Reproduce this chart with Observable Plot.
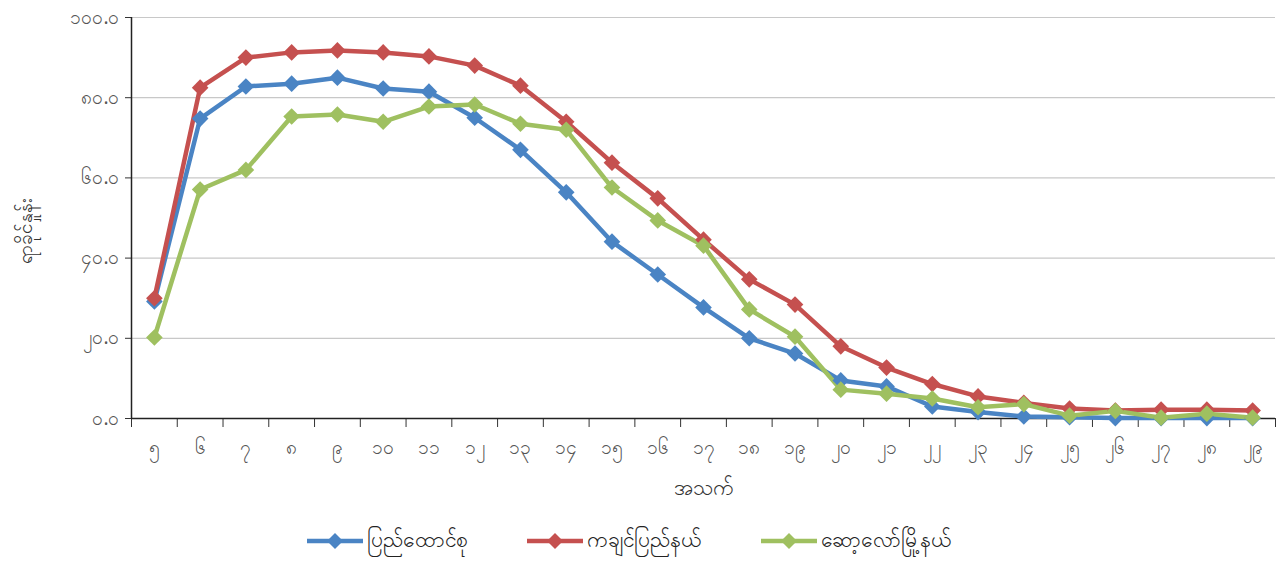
<!DOCTYPE html>
<html>
<head>
<meta charset="utf-8">
<script src="https://cdn.jsdelivr.net/npm/d3@7"></script>
<script src="https://cdn.jsdelivr.net/npm/@observablehq/plot@0.6"></script>
<style>
  html, body { margin: 0; padding: 0; background: #fff; }
  body { width: 1287px; height: 561px; overflow: hidden; font-family: "Noto Sans", "DejaVu Sans", sans-serif; }
  #legend { display: flex; justify-content: center; align-items: center; gap: 58px; height: 41px; font-size: 21px; color: #222; padding-right: 30px; }
  .item { display: flex; align-items: center; gap: 3px; }
</style>
</head>
<body>
<div id="chart"></div>
<div id="legend"></div>
<script>
const ages = [5,6,7,8,9,10,11,12,13,14,15,16,17,18,19,20,21,22,23,24,25,26,27,28,29];
const ageLabels = ["၅","၆","၇","၈","၉","၁၀","၁၁","၁၂","၁၃","၁၄","၁၅","၁၆","၁၇","၁၈","၁၉","၂၀","၂၁","၂၂","၂၃","၂၄","၂၅","၂၆","၂၇","၂၈","၂၉"];
const yTicks = [0,20,40,60,80,100];
const yTickLabels = ["၀.၀","၂၀.၀","၄၀.၀","၆၀.၀","၈၀.၀","၁၀၀.၀"];
const seriesNames = ["ပြည်ထောင်စု","ကချင်ပြည်နယ်","ဆော့လော်မြို့နယ်"];
const seriesColors = ["#4a84c4","#c5504f","#9fc060"];
const union = [29.2,74.8,82.8,83.5,85.0,82.3,81.5,75.0,67.0,56.4,44.1,35.9,27.7,20.0,16.2,9.5,8.0,3.0,1.6,0.5,0.3,0.1,0.1,0.1,0.1];
const kachin = [30.0,82.5,90.0,91.3,91.8,91.3,90.3,88.0,83.0,74.0,63.8,54.9,44.6,34.7,28.4,18.0,12.7,8.6,5.5,3.9,2.5,2.0,2.2,2.2,2.0];
const hsawlaw = [20.2,57.1,62.0,75.3,75.8,74.0,77.8,78.3,73.5,72.0,57.6,49.4,43.1,27.2,20.4,7.2,6.2,5.0,2.8,3.6,0.7,1.9,0.2,1.2,0.2];

const seriesValues = [union, kachin, hsawlaw];
const data = [];
seriesValues.forEach((vals, s) => vals.forEach((v, i) => data.push({age: ages[i], value: v, series: seriesNames[s]})));

const boundaries = ages.map(a => a - 0.5).concat([ages[ages.length - 1] + 0.5]);
const labelOf = new Map(ages.map((a, i) => [a, ageLabels[i]]));
const yLabelOf = new Map(yTicks.map((t, i) => [t, yTickLabels[i]]));

const chart = Plot.plot({
  width: 1287,
  height: 520,
  marginTop: 17,
  marginBottom: 102,
  marginLeft: 131,
  marginRight: 12,
  style: {fontFamily: "'Noto Sans', 'DejaVu Sans', sans-serif", fontSize: "16px", color: "#333", background: "#fff"},
  x: {type: "linear", domain: [boundaries[0], boundaries[boundaries.length - 1]]},
  y: {domain: [0, 100]},
  color: {domain: seriesNames, range: seriesColors},
  marks: [
    Plot.gridY(yTicks.filter(t => t > 0), {stroke: "#c8c8c8", strokeOpacity: 1, strokeWidth: 1.2}),
    Plot.axisY({ticks: yTicks, tickFormat: d => yLabelOf.get(d), tickSize: 6, tickPadding: 6, fontSize: 19, fill: "#555", label: null}),
    Plot.axisX({ticks: ages, tickFormat: d => labelOf.get(d), tickSize: 0, tickPadding: 22, fontSize: 19, fill: "#555", label: null}),
    Plot.axisX({ticks: boundaries, tickFormat: () => "", tickSize: 9, label: null}),
    Plot.ruleX([boundaries[0]], {stroke: "#222", strokeWidth: 1.5}),
    Plot.ruleY([0], {stroke: "#222", strokeWidth: 1.5}),
    Plot.lineY(data, {x: "age", y: "value", z: "series", stroke: "series", strokeWidth: 4.5}),
    Plot.dot(data, {x: "age", y: "value", fill: "series", symbol: "diamond2", r: 7.5}),
    Plot.text(["အသက်"], {frameAnchor: "bottom", dy: 76, fontSize: 21, fill: "#333"}),
    Plot.text(["ရာခိုင်နှုန်း"], {frameAnchor: "left", dx: -106, dy: 46, rotate: -90, fontSize: 19, fill: "#333"})
  ]
});
document.getElementById("chart").appendChild(chart);

const legend = document.getElementById("legend");
seriesNames.forEach((name, i) => {
  const item = document.createElement("div");
  item.className = "item";
  const c = seriesColors[i];
  item.innerHTML = `<svg width="58" height="20"><line x1="1" y1="10" x2="57" y2="10" stroke="${c}" stroke-width="4.5"/><path d="M29,2 L37,10 L29,18 L21,10 Z" fill="${c}"/></svg><span>${name}</span>`;
  legend.appendChild(item);
});
</script>
</body>
</html>
